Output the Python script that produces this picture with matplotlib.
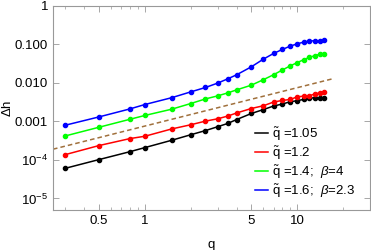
import numpy as np
import matplotlib
matplotlib.use("Agg")
import matplotlib.pyplot as plt
from matplotlib.ticker import FixedLocator, NullFormatter

plt.rcParams['font.family'] = ['Liberation Sans', 'DejaVu Sans']
plt.rcParams['mathtext.fontset'] = 'custom'
plt.rcParams['mathtext.rm'] = 'Liberation Sans'
plt.rcParams['mathtext.it'] = 'Liberation Sans:italic'

# data
q = [0.3, 0.5, 0.8, 1, 1.5, 2, 2.5, 3, 3.5, 4, 5, 6, 7, 8, 9, 10, 11, 12, 13, 14, 15]
dh_105 = [6.04e-5, 1.02e-4, 1.64e-4, 2.09e-4, 3.24e-4, 4.51e-4, 5.79e-4, 7.28e-4, 8.87e-4, 1.12e-3,
          1.61e-3, 2.04e-3, 2.52e-3, 2.84e-3, 3.26e-3, 3.46e-3, 3.74e-3, 4.09e-3, 4.09e-3, 3.95e-3, 3.95e-3]
dh_12 = [1.37e-4, 2.36e-4, 3.59e-4, 4.12e-4, 6.38e-4, 8.20e-4, 1.02e-3, 1.17e-3, 1.38e-3, 1.66e-3,
         2.17e-3, 2.56e-3, 3.20e-3, 3.52e-3, 3.72e-3, 4.37e-3, 4.53e-3, 4.64e-3, 5.17e-3, 5.49e-3, 5.66e-3]
dh_14 = [4.19e-4, 7.06e-4, 1.14e-3, 1.43e-3, 2.08e-3, 2.92e-3, 3.85e-3, 4.61e-3, 5.52e-3, 6.61e-3,
         8.77e-3, 0.0122, 0.0164, 0.0218, 0.0279, 0.0338, 0.0402, 0.0461, 0.0511, 0.0556, 0.0569]
dh_16 = [7.96e-4, 1.31e-3, 2.12e-3, 2.75e-3, 4.14e-3, 5.86e-3, 7.63e-3, 9.89e-3, 0.0128, 0.0163,
         0.0263, 0.0417, 0.0586, 0.0745, 0.0908, 0.104, 0.115, 0.123, 0.125, 0.125, 0.128]
ref_q = [0.25, 17]
ref_dh = [1.9e-4, 0.0128]

labels = [r'$\tilde{\mathrm{q}}$ =1.05',
          r'$\tilde{\mathrm{q}}$ =1.2',
          r'$\tilde{\mathrm{q}}$ =1.4;  $\beta$=4',
          r'$\tilde{\mathrm{q}}$ =1.6;  $\beta$=2.3']
colors = ['black', '#ff0000', '#00ff00', '#0000ff']

fig = plt.figure(figsize=(3.71, 2.5), dpi=100)
ax = fig.add_axes([53/371, 1 - 210/250, 317/371, 204/250])

ax.plot(ref_q, ref_dh, color='#a0703c', lw=1.1, ls=(0, (3, 2)))
for ys, c, lab in zip([dh_105, dh_12, dh_14, dh_16], colors, labels):
    ax.plot(q, ys, color=c, lw=1.1, marker='o', ms=3, label=lab)

ax.set_xscale('log')
ax.set_yscale('log')
ax.set_xlim(0.25, 30)
ax.set_ylim(5e-6, 1)

ax.xaxis.set_major_locator(FixedLocator([0.5, 1, 5, 10]))
ax.set_xticklabels(['0.5', '1', '5', '10'])
ax.xaxis.set_minor_locator(FixedLocator([0.3, 0.4, 0.6, 0.7, 0.8, 0.9, 2, 3, 4, 6, 7, 8, 9, 20, 30]))
ax.xaxis.set_minor_formatter(NullFormatter())
ax.yaxis.set_major_locator(FixedLocator([1e-5, 1e-4, 1e-3, 1e-2, 1e-1, 1]))
ax.set_yticklabels([r'$10^{-5}$', r'$10^{-4}$', '0.001', '0.010', '0.100', '1'])
ax.yaxis.set_minor_locator(FixedLocator([]))

ax.tick_params(which='both', direction='in', top=True, right=True, colors='#999999',
               labelcolor='black', labelsize=9.5)
ax.tick_params(which='major', length=4, width=0.6)
ax.tick_params(which='minor', length=2, width=0.5)
for s in ax.spines.values():
    s.set_color('#999999')
    s.set_linewidth(0.8)

ax.set_xlabel('q', fontsize=9.5, labelpad=9)
ax.set_ylabel(r'$\Delta$h', fontsize=9.5)
ax.yaxis.set_label_coords(-0.122, 0.5)

leg = ax.legend(loc='upper left', bbox_to_anchor=(0.638, 0.415), frameon=False, fontsize=9.5,
                handlelength=1.0, handletextpad=0.3, labelspacing=0.12, borderpad=0,
                borderaxespad=0)
for h in leg.legend_handles:
    h.set_marker('')

fig.savefig('out.png', dpi=100)
